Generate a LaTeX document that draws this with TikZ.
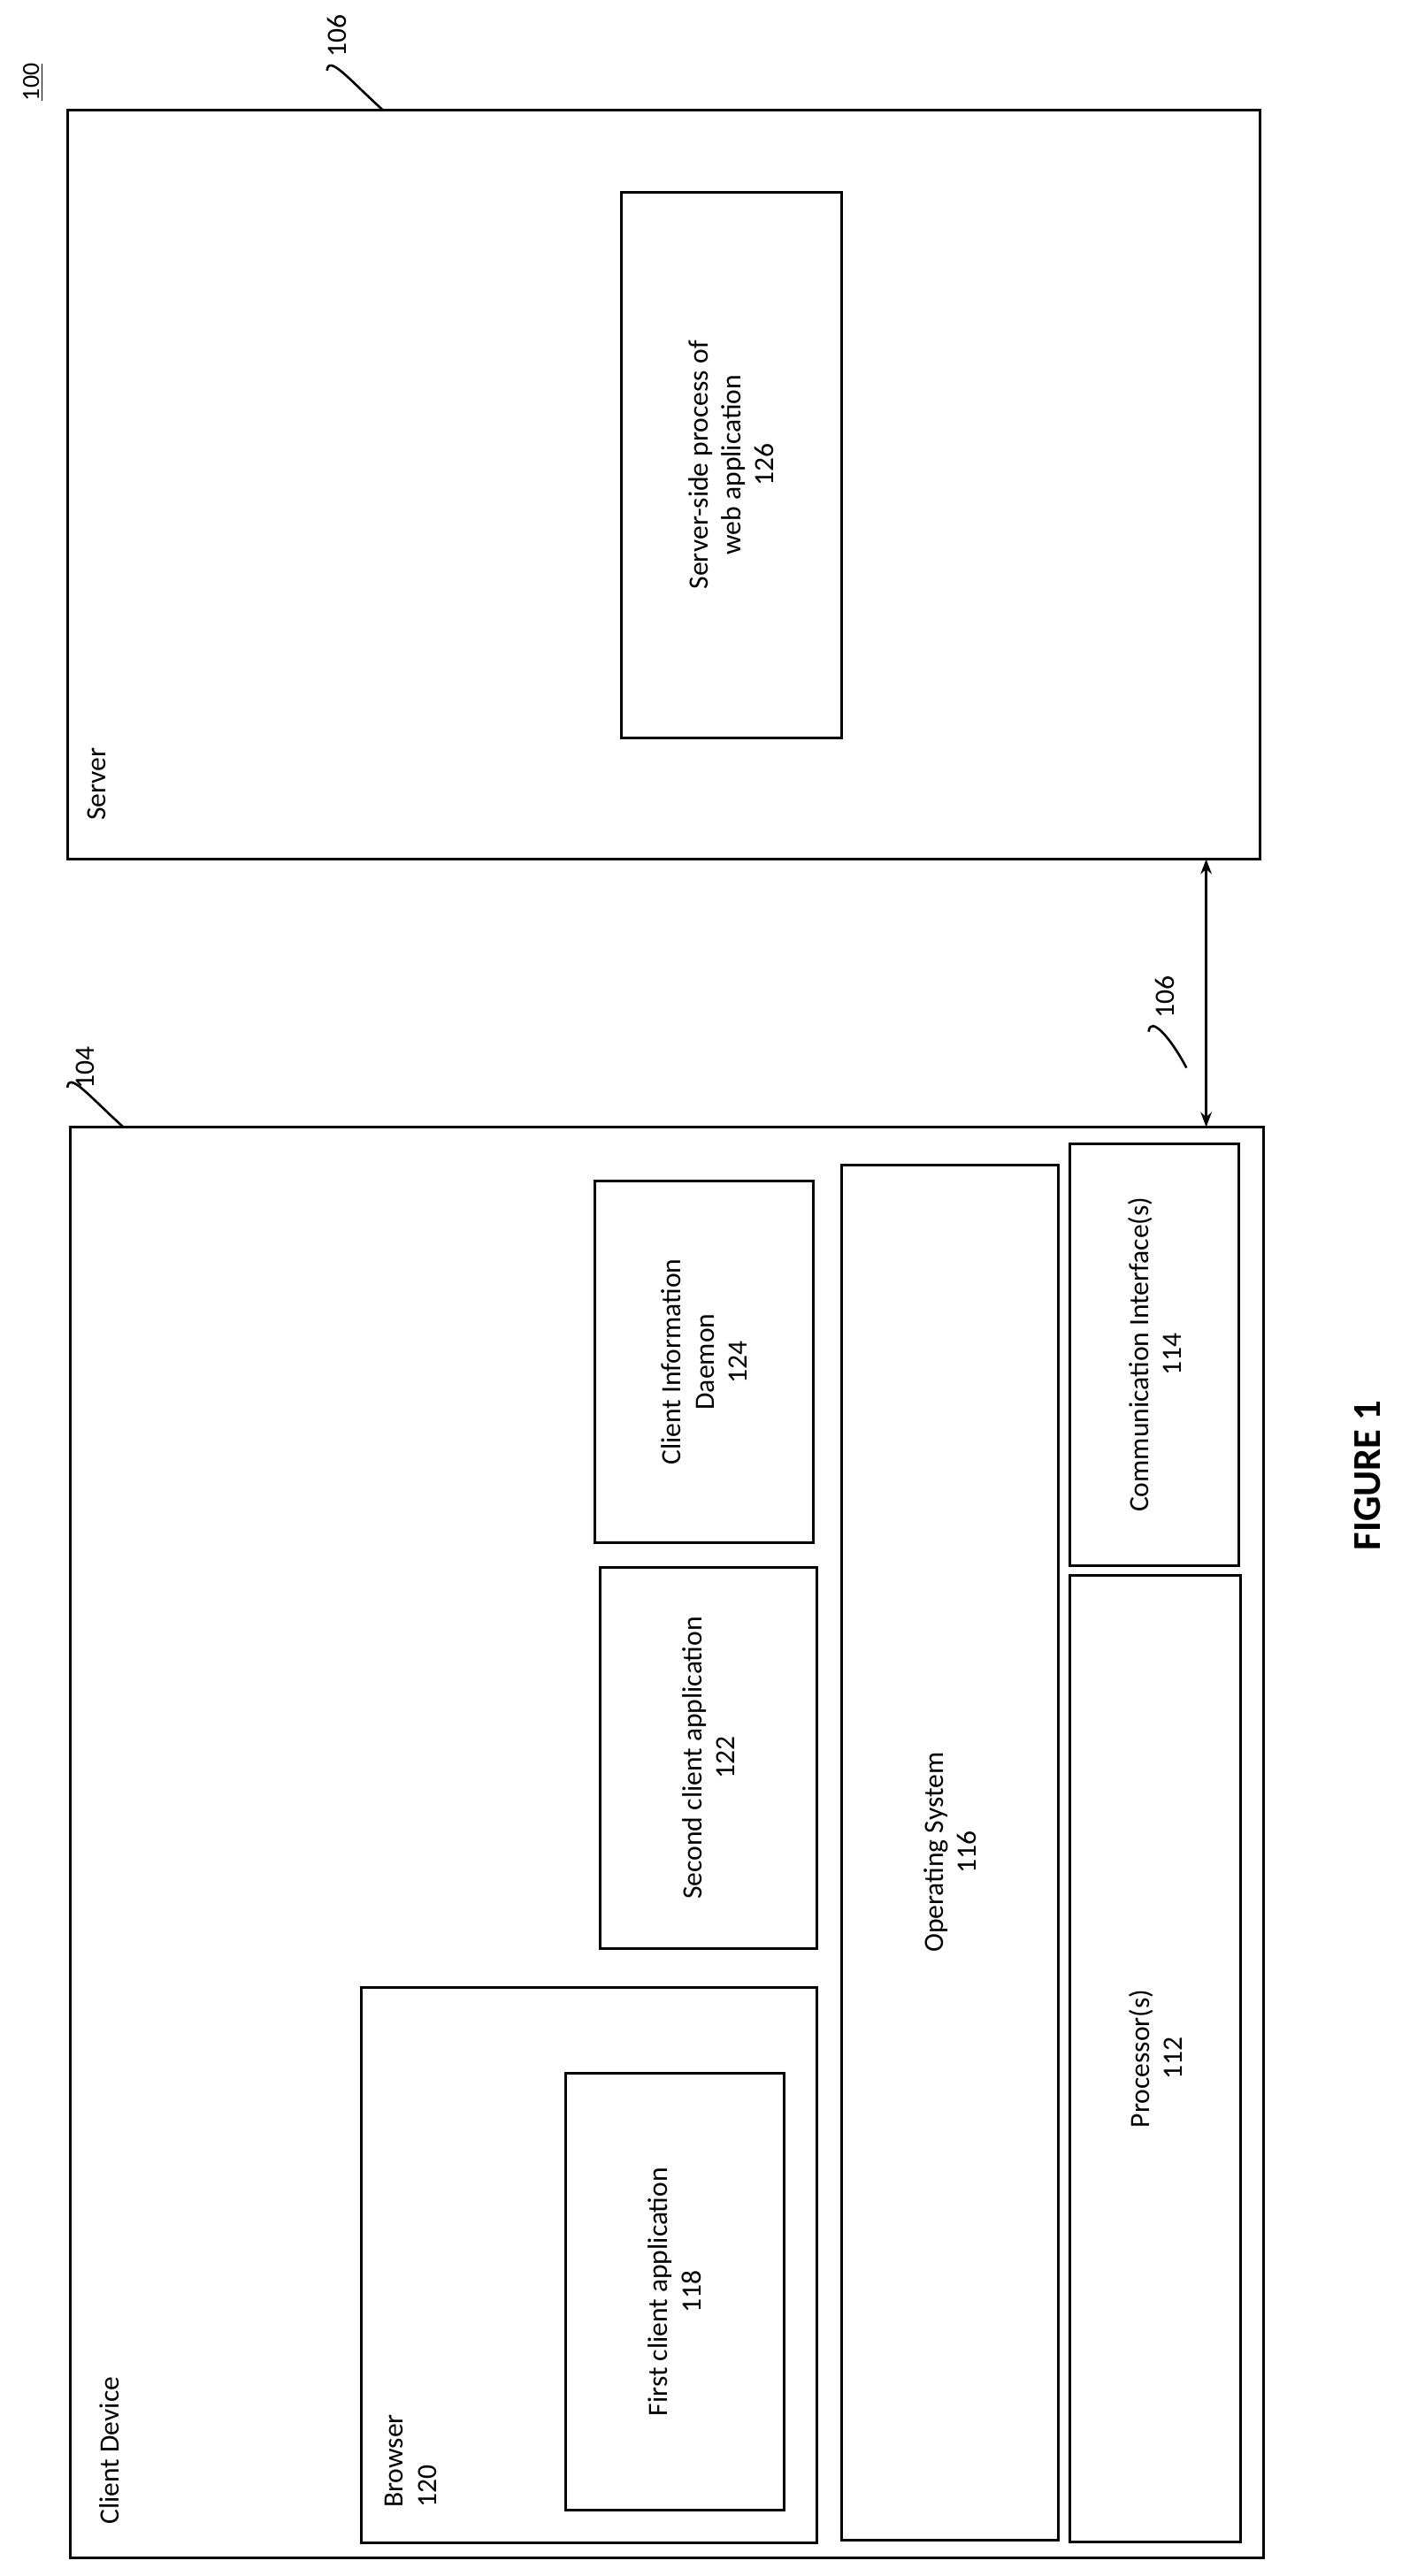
\documentclass[tikz,border=0pt]{standalone}
\usepackage{fontspec}
\setmainfont{Carlito}
\usetikzlibrary{arrows.meta}
\begin{document}
\begin{tikzpicture}[x=1pt,y=-1pt,
  box/.style={draw,line width=1.6pt,inner sep=0pt},
  txt/.style={rotate=90,align=center,font=\fontsize{17}{20}\selectfont},
  lead/.style={line width=1.4pt}]
\useasboundingbox (0,0) rectangle (853,1568);
\newcommand{\bx}[5]{\node[box,minimum width=#4-#2,minimum height=#5-#3] (#1) at ({(#2+#4)/2},{(#3+#5)/2}) {};}
\bx{server}{41}{67}{767}{523}
\bx{ssp}{378}{117}{512}{449}
\bx{client}{43}{686}{769}{1557}
\bx{cid}{362}{719}{495}{939}
\bx{sca}{365}{954}{497}{1186}
\bx{browser}{220}{1210}{497}{1548}
\bx{fca}{344}{1262}{477}{1528}
\bx{os}{512}{709}{644}{1546}
\bx{comm}{651}{696}{754}{953}
\bx{proc}{651}{959}{755}{1547}
\node[txt] at (ssp) {Server-side process of\\web application\\126};
\node[txt] at (cid) {Client Information\\Daemon\\124};
\node[txt] at (sca) {Second client application\\122};
\node[txt] at (fca) {First client application\\118};
\node[txt] at (os) {Operating System\\116};
\node[txt] at (comm) {Communication Interface(s)\\114};
\node[txt] at (proc) {Processor(s)\\112};
\node[txt,anchor=north west,align=left] at (50,503) {Server};
\node[txt,anchor=north west,align=left] at (57,1540) {Client Device};
\node[txt,anchor=north west,align=left] at (231,1530) {Browser\\120};
\node[txt,font=\fontsize{24}{28}\selectfont\bfseries] at (832,898) {FIGURE 1};
\node[txt,font=\fontsize{15}{18}\selectfont] (l100) at (20,50) {\underline{100}};
\node[txt] (l106a) at (205,22) {106};
\node[txt] (l104) at (52,650) {104};
\node[txt] (l106b) at (709,607) {106};
\draw[line width=1.6pt,{Stealth[length=9pt]}-{Stealth[length=9pt]}] (734,523) -- (734,686);
\draw[lead] (199,43) .. controls (200,33) and (212,48) .. (233,67);
\draw[lead] (41,662) .. controls (42,652) and (54,667) .. (75,686);
\draw[lead] (699,628) .. controls (700,618) and (712,631) .. (722,650);
\end{tikzpicture}
\end{document}
